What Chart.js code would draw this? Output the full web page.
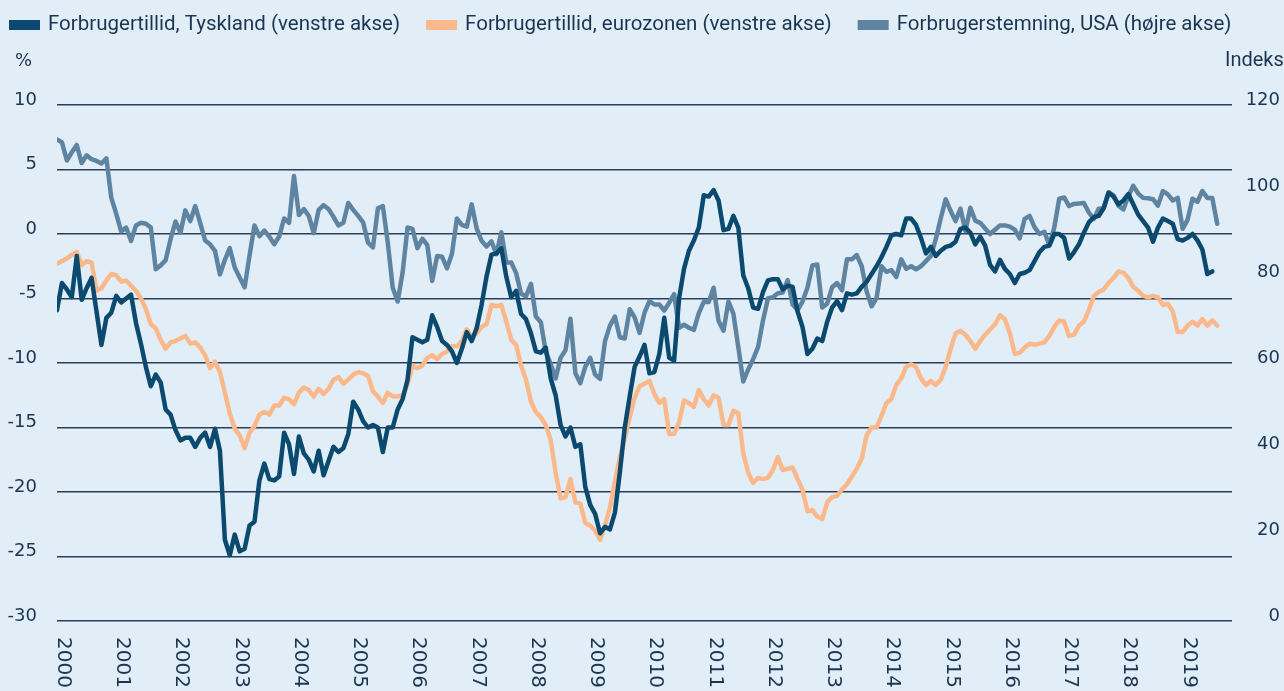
<!DOCTYPE html>
<html>
<head>
<meta charset="utf-8">
<script src="https://cdn.jsdelivr.net/npm/chart.js@4"></script>
<style>
  html, body { margin: 0; padding: 0; background: #e1eef7; }
  #wrap { width: 1284px; height: 691px; }
</style>
</head>
<body>
<div id="wrap"><canvas id="chart" width="1284" height="691"></canvas></div>
<script>
// årstal på x-aksen (månedsdata fra jan. 2000)
const aar = ['2000','2001','2002','2003','2004','2005','2006','2007','2008','2009',
             '2010','2011','2012','2013','2014','2015','2016','2017','2018','2019'];

const navne = [
  'Forbrugertillid, Tyskland (venstre akse)',
  'Forbrugertillid, eurozonen (venstre akse)',
  'Forbrugerstemning, USA (højre akse)'
];

// Forbrugertillid, Tyskland (%)
const tyskland = [
  -5.9, -3.8, -4.3, -4.9, -1.7, -5.1, -4.2, -3.4, -6.0, -8.6, -6.5, -6.1,
  -4.8, -5.3, -5.0, -4.7, -6.9, -8.5, -10.3, -11.8, -10.9, -11.5, -13.6, -14.0,
  -15.2, -16.0, -15.8, -15.8, -16.5, -15.8, -15.4, -16.5, -15.1, -16.8, -23.7, -24.9,
  -23.3, -24.6, -24.4, -22.6, -22.3, -19.1, -17.8, -19.0, -19.1, -18.8, -15.4, -16.3,
  -18.6, -15.7, -17.0, -17.5, -18.4, -16.8, -18.7, -17.6, -16.5, -16.9, -16.6, -15.5,
  -13.0, -13.6, -14.5, -15.0, -14.8, -15.0, -16.9, -15.0, -15.0, -13.6, -12.8, -11.3,
  -8.0, -8.2, -8.4, -8.2, -6.3, -7.2, -8.3, -8.6, -9.1, -10.0, -8.9, -7.6,
  -8.3, -7.3, -5.5, -3.3, -1.6, -1.5, -1.1, -3.3, -4.9, -4.4, -6.2, -6.6,
  -7.7, -9.1, -9.2, -8.8, -11.2, -12.5, -14.8, -15.7, -15.0, -16.5, -16.3, -19.6,
  -21.0, -21.7, -23.2, -22.7, -22.9, -21.6, -18.5, -15.0, -12.6, -10.3, -9.5, -8.6,
  -10.8, -10.7, -9.3, -6.5, -9.6, -9.8, -5.0, -2.7, -1.3, -0.5, 0.5, 3.0,
  2.9, 3.4, 2.6, 0.3, 0.4, 1.4, 0.5, -3.2, -4.2, -5.7, -5.8, -4.5,
  -3.6, -3.5, -3.5, -4.3, -4.0, -4.1, -6.0, -7.2, -9.3, -8.9, -8.1, -8.3,
  -6.8, -5.7, -5.2, -5.9, -4.6, -4.7, -4.6, -4.1, -3.7, -3.1, -2.5, -1.8,
  -1.0, -0.1, 0.0, -0.1, 1.2, 1.2, 0.7, -0.3, -1.5, -1.0, -1.7, -1.3,
  -1.0, -0.9, -0.6, 0.4, 0.5, 0.1, -0.8, -0.2, -0.9, -2.4, -2.9, -2.0,
  -2.7, -3.1, -3.8, -3.1, -3.0, -2.8, -2.1, -1.4, -1.0, -0.9, 0.0, 0.0,
  -0.3, -1.9, -1.4, -0.8, 0.1, 0.9, 1.3, 1.4, 2.0, 3.2, 2.9, 2.3,
  2.6, 3.1, 2.3, 1.5, 1.0, 0.5, -0.6, 0.5, 1.2, 1.0, 0.8, -0.4,
  -0.5, -0.3, 0.0, -0.5, -1.2, -3.1, -2.9
];

// Forbrugertillid, eurozonen (%)
const eurozonen = [
  -2.3, -2.1, -1.9, -1.6, -1.4, -2.4, -2.1, -2.2, -4.4, -4.2, -3.6, -3.1,
  -3.2, -3.7, -3.6, -4.0, -4.4, -5.0, -5.8, -7.0, -7.3, -8.2, -8.9, -8.4,
  -8.3, -8.1, -7.9, -8.5, -8.4, -8.8, -9.4, -10.4, -9.9, -10.7, -12.3, -13.9,
  -15.1, -15.6, -16.6, -15.4, -14.9, -14.0, -13.8, -14.0, -13.3, -13.3, -12.7, -12.8,
  -13.2, -12.3, -11.9, -12.1, -12.6, -12.0, -12.4, -12.0, -11.3, -11.1, -11.6, -11.3,
  -10.9, -10.7, -10.8, -11.0, -12.2, -12.6, -13.1, -12.3, -12.6, -12.6, -12.5, -11.7,
  -10.2, -10.4, -10.2, -9.6, -9.4, -9.7, -9.3, -9.1, -8.7, -8.7, -8.3, -7.4,
  -8.0, -7.7, -7.2, -7.0, -5.5, -5.6, -5.5, -6.8, -8.2, -8.6, -10.2, -11.3,
  -13.0, -13.8, -14.2, -14.8, -16.0, -18.5, -20.5, -20.4, -19.0, -20.8, -20.9, -22.4,
  -22.6, -23.0, -23.7, -22.6, -21.2, -19.2, -17.3, -15.9, -14.2, -12.7, -11.8, -11.6,
  -11.4, -12.4, -13.1, -12.8, -15.5, -15.5, -14.6, -12.9, -13.1, -13.4, -12.1, -12.8,
  -13.3, -12.5, -12.7, -14.8, -14.8, -13.7, -13.9, -17.0, -18.5, -19.3, -18.9, -19.0,
  -18.9, -18.3, -17.3, -18.3, -18.2, -18.1, -19.0, -19.8, -21.5, -21.4, -21.9, -22.1,
  -20.8, -20.4, -20.3, -19.8, -19.4, -18.8, -18.2, -17.4, -15.6, -15.0, -15.0, -14.1,
  -13.1, -12.8, -11.7, -11.2, -10.3, -10.1, -10.3, -11.2, -11.7, -11.4, -11.7, -11.3,
  -10.3, -8.9, -7.7, -7.5, -7.8, -8.3, -8.9, -8.3, -7.8, -7.4, -7.0, -6.3,
  -6.6, -7.7, -9.3, -9.2, -8.8, -8.5, -8.6, -8.5, -8.4, -7.9, -7.2, -6.7,
  -6.8, -7.9, -7.8, -7.1, -6.8, -5.9, -4.8, -4.5, -4.3, -3.8, -3.4, -2.9,
  -3.0, -3.4, -4.1, -4.4, -4.8, -4.9, -4.8, -4.9, -5.5, -5.4, -6.0, -7.6,
  -7.6, -7.1, -6.8, -7.1, -6.6, -7.1, -6.7, -7.1
];

// Forbrugerstemning, USA (indeks)
const usa = [
  112.0, 111.3, 107.1, 109.0, 110.7, 106.5, 108.3, 107.4, 107.0, 106.4, 107.6, 98.4,
  94.7, 90.6, 91.5, 88.4, 92.0, 92.6, 92.4, 91.5, 81.8, 82.7, 83.9, 88.8,
  92.9, 90.3, 95.5, 93.0, 96.5, 92.6, 88.5, 87.6, 86.1, 80.6, 84.0, 86.7,
  82.2, 79.9, 77.6, 85.0, 92.0, 89.5, 90.8, 89.4, 87.6, 89.4, 93.6, 92.6,
  103.5, 94.4, 95.8, 94.2, 90.2, 95.6, 96.7, 95.8, 94.0, 92.0, 92.6, 97.2,
  95.6, 94.2, 92.7, 88.0, 86.9, 96.0, 96.5, 88.0, 77.5, 74.3, 81.0, 91.5,
  91.2, 86.7, 88.9, 87.4, 79.1, 84.9, 84.7, 82.0, 85.4, 93.6, 92.1, 91.7,
  96.9, 91.3, 88.4, 87.1, 88.3, 85.3, 90.4, 83.4, 83.4, 80.9, 76.1, 75.5,
  78.4, 70.8, 69.5, 62.6, 59.8, 56.4, 61.2, 63.0, 70.3, 57.6, 55.3, 59.1,
  61.2, 57.3, 56.3, 65.1, 68.7, 70.8, 66.0, 65.7, 72.5, 70.6, 67.0, 71.7,
  74.4, 73.6, 73.6, 72.2, 74.0, 76.0, 68.2, 68.9, 68.2, 67.7, 71.6, 74.2,
  74.2, 77.5, 69.8, 67.5, 74.3, 71.5, 63.7, 55.7, 58.5, 60.9, 63.7, 69.9,
  75.0, 75.3, 76.2, 76.4, 79.3, 73.6, 72.3, 74.3, 77.5, 82.7, 82.9, 72.9,
  73.8, 77.6, 78.6, 76.9, 84.1, 84.1, 85.1, 82.5, 76.6, 73.2, 75.1, 82.5,
  81.2, 81.6, 80.0, 84.1, 81.9, 82.5, 81.8, 82.5, 83.7, 84.9, 88.8, 93.6,
  98.1, 95.4, 93.0, 95.9, 90.7, 96.1, 93.1, 92.6, 91.3, 90.0, 91.0, 92.0,
  92.0, 91.7, 91.0, 89.0, 93.5, 94.2, 91.6, 90.0, 90.5, 87.4, 91.5, 98.2,
  98.5, 96.5, 97.0, 97.1, 97.2, 95.0, 93.5, 95.9, 96.0, 99.7, 99.0, 96.6,
  95.7, 98.8, 101.2, 99.4, 98.4, 98.3, 98.1, 96.6, 100.0, 99.2, 97.8, 98.4,
  91.2, 93.3, 98.2, 97.5, 100.0, 98.4, 98.4, 92.4
];

const tekstFarve = '#1b3552';
const gridFarve = '#2a3e5c';
const baggrund = '#e1eef7';

function tilPunkter(arr) {
  return arr.map((v, i) => ({ x: i, y: v }));
}

const tekster = {
  id: 'tekster',
  beforeDraw(chart) {
    const ctx = chart.ctx;
    ctx.save();
    ctx.fillStyle = baggrund;
    ctx.fillRect(0, 0, chart.width, chart.height);
    ctx.restore();
  },
  afterDraw(chart) {
    const ctx = chart.ctx;
    const xs = chart.scales.x;
    ctx.save();

    // forklaring øverst
    ctx.font = '20.5px Roboto';
    ctx.textBaseline = 'middle';
    ctx.textAlign = 'left';
    let x = 9;
    chart.data.datasets.forEach(ds => {
      ctx.fillStyle = ds.borderColor;
      ctx.fillRect(x, 20, 31, 10);
      ctx.fillStyle = tekstFarve;
      ctx.fillText(ds.label, x + 39, 25);
      x += 39 + ctx.measureText(ds.label).width + 26;
    });

    // enheder
    ctx.font = '18px "DejaVu Sans"';
    ctx.fillText('%', 15, 61);
    ctx.font = '20px Roboto';
    ctx.fillText('Indeks', 1225, 61);

    // årstal, drejet
    ctx.font = '20px "DejaVu Sans"';
    ctx.textBaseline = 'alphabetic';
    aar.forEach((a, i) => {
      const px = xs.getPixelForValue(i * 12);
      ctx.save();
      ctx.translate(px + 1, 637);
      ctx.rotate(Math.PI / 2);
      ctx.fillText(a, 0, 0);
      ctx.restore();
    });
    ctx.restore();
  }
};

const ctx = document.getElementById('chart').getContext('2d');
const chart = new Chart(ctx, {
  type: 'line',
  data: {
    datasets: [
      {
        label: navne[0],
        data: tilPunkter(tyskland),
        borderColor: '#0b4a6e',
        borderWidth: 4.5,
        yAxisID: 'y'
      },
      {
        label: navne[1],
        data: tilPunkter(eurozonen),
        borderColor: '#fbb98b',
        borderWidth: 4.5,
        yAxisID: 'y'
      },
      {
        label: navne[2],
        data: tilPunkter(usa),
        borderColor: '#5f84a2',
        borderWidth: 4.5,
        yAxisID: 'y2'
      }
    ]
  },
  options: {
    responsive: false,
    animation: false,
    layout: { padding: { top: 105, right: 4, left: 0, bottom: 0 } },
    elements: {
      point: { radius: 0 },
      line: { tension: 0, borderJoinStyle: 'round', borderCapStyle: 'round', fill: false }
    },
    plugins: {
      legend: { display: false },
      tooltip: { enabled: false }
    },
    scales: {
      x: {
        type: 'linear',
        min: 0,
        max: 238,
        grid: { display: false },
        border: { display: false },
        ticks: { display: false },
        afterFit(s) { s.height = 70; }
      },
      y: {
        position: 'left',
        min: -30,
        max: 10,
        ticks: {
          stepSize: 5,
          color: tekstFarve,
          font: { family: 'DejaVu Sans', size: 18 },
          padding: 20,
          labelOffset: -5
        },
        grid: { color: gridFarve, lineWidth: 1.5, drawTicks: false },
        border: { display: false },
        afterFit(s) { s.width = 57; }
      },
      y2: {
        position: 'right',
        min: 0,
        max: 120,
        ticks: {
          stepSize: 20,
          color: tekstFarve,
          font: { family: 'DejaVu Sans', size: 18 },
          crossAlign: 'far',
          labelOffset: -5
        },
        grid: { display: false },
        border: { display: false },
        afterFit(s) { s.width = 48; }
      }
    }
  },
  plugins: [tekster]
});
</script>
</body>
</html>
